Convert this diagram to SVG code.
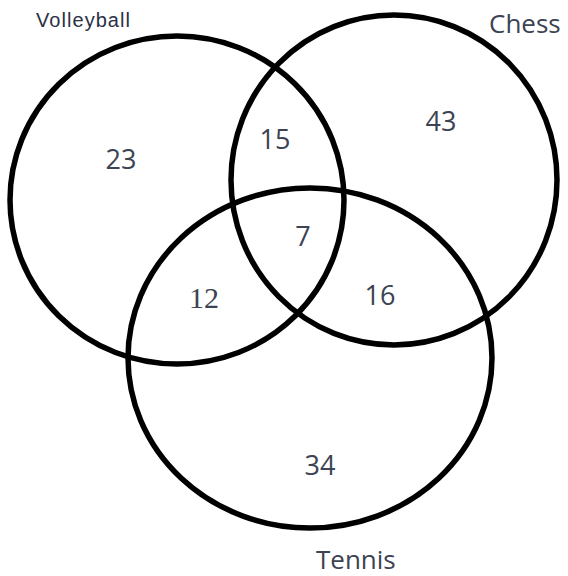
<svg xmlns="http://www.w3.org/2000/svg" width="568" height="576" viewBox="0 0 568 576">
<style>
.c{fill:none;stroke:#000;stroke-width:5.5}
.n{font-family:"Open Sans","Liberation Sans",sans-serif;font-size:27px;fill:#3c4352;text-anchor:middle}
.s{font-family:"Liberation Serif","DejaVu Serif",serif;font-size:30px;fill:#3c4352;text-anchor:middle}
.lab{font-family:"Open Sans","Liberation Sans",sans-serif;font-size:26px;fill:#3c4352}
.v{font-family:"Liberation Sans",Arial,sans-serif;font-size:20px;fill:#2a3045}
</style>
<rect width="568" height="576" fill="#fff"/>
<g id="volleyball">
<ellipse class="c" cx="177" cy="200" rx="167" ry="164"/>
<text class="v" x="36" y="27" textLength="94">Volleyball</text>
</g>
<g id="chess">
<ellipse class="c" cx="394" cy="180" rx="163" ry="165"/>
<text class="lab" x="489" y="33">Chess</text>
</g>
<g id="tennis">
<ellipse class="c" cx="310" cy="358" rx="182" ry="170"/>
<text class="lab" x="316" y="569">Tennis</text>
</g>
<g id="counts">
<text class="n" x="121" y="169">23</text>
<text class="n" x="275" y="149">15</text>
<text class="n" x="441" y="131">43</text>
<text class="n" x="303" y="246">7</text>
<text class="s" x="204" y="308">12</text>
<text class="n" x="380" y="305">16</text>
<text class="n" x="320" y="475">34</text>
</g>
</svg>
